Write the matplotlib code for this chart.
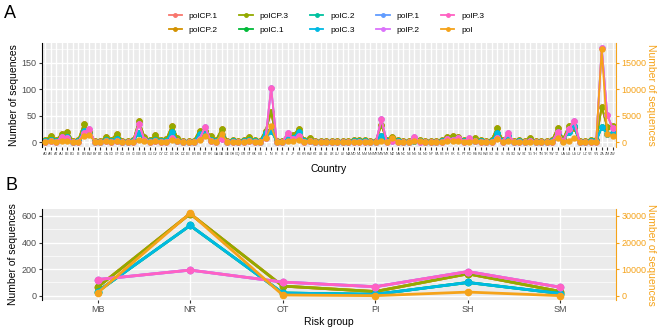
import matplotlib
matplotlib.use("Agg")
import matplotlib.pyplot as plt
from matplotlib.ticker import MultipleLocator
from matplotlib.lines import Line2D

plt.rcParams['font.family'] = ['Liberation Sans', 'DejaVu Sans']

countries = ['AD', 'AR', 'AT', 'AU', 'BE', 'BG', 'BI', 'BR', 'BW', 'BY',
             'BZ', 'CA', 'CD', 'CF', 'CG', 'CH', 'CI', 'CM', 'CN', 'CU',
             'CV', 'CY', 'CZ', 'DE', 'DK', 'DZ', 'EE', 'ER', 'ES', 'ET',
             'FR', 'GA', 'GB', 'GE', 'GH', 'GQ', 'GR', 'GT', 'HK', 'HR',
             'IL', 'IN', 'IR', 'IS', 'IT', 'JP', 'KE', 'KR', 'KW', 'KZ',
             'LB', 'LK', 'LR', 'LU', 'LV', 'MA', 'MD', 'ML', 'MM', 'MN',
             'MR', 'MW', 'MX', 'MZ', 'NA', 'NC', 'NE', 'NG', 'NL', 'NO',
             'NP', 'PA', 'PE', 'PH', 'PK', 'PL', 'PT', 'RO', 'RS', 'RU',
             'RW', 'SD', 'SE', 'SI', 'SN', 'SO', 'SV', 'SZ', 'TG', 'TH',
             'TN', 'TR', 'TW', 'TZ', 'UA', 'UG', 'US', 'UY', 'UZ', 'VE',
             'VN', 'ZA', 'ZM', 'ZW']

# panel A, sequences per country
polCP3_A = [4, 12, 4, 16, 19, 3, 4, 34, 20, 2,
            2, 9, 5, 16, 3, 3, 4, 40, 10, 4,
            13, 4, 6, 31, 8, 3, 2, 3, 22, 22,
            12, 4, 24, 3, 4, 3, 5, 9, 4, 3,
            22, 57, 3, 3, 12, 13, 25, 4, 8, 3,
            3, 2, 3, 3, 2, 3, 4, 4, 5, 3,
            3, 32, 4, 10, 5, 3, 3, 4, 5, 3,
            3, 3, 4, 10, 12, 10, 4, 5, 8, 4,
            3, 4, 27, 4, 10, 3, 5, 3, 7, 3,
            2, 3, 4, 27, 6, 30, 26, 3, 3, 4,
            4, 67, 28, 30]
polC3_A = [2, 5, 2, 8, 10, 1, 2, 22, 16, 1,
           1, 4, 2, 6, 1, 1, 2, 18, 5, 2,
           5, 2, 3, 20, 3, 1, 1, 1, 16, 16,
           5, 2, 14, 1, 2, 1, 2, 4, 2, 1,
           18, 22, 1, 1, 6, 8, 20, 2, 3, 1,
           1, 1, 1, 1, 1, 1, 2, 2, 2, 1,
           1, 12, 2, 4, 2, 1, 1, 2, 2, 1,
           1, 1, 2, 4, 5, 5, 2, 2, 3, 2,
           1, 2, 17, 2, 12, 1, 2, 1, 3, 1,
           1, 1, 2, 17, 3, 19, 30, 1, 1, 2,
           2, 28, 16, 17]
polP3_A = [1, 2, 1, 10, 8, 0, 1, 18, 24, 0,
           0, 2, 1, 3, 0, 0, 1, 35, 4, 1,
           3, 1, 1, 8, 2, 0, 0, 0, 6, 29,
           3, 1, 6, 0, 1, 0, 1, 2, 1, 0,
           8, 103, 0, 0, 17, 6, 12, 1, 2, 0,
           0, 0, 0, 0, 0, 0, 1, 1, 1, 0,
           0, 43, 1, 3, 1, 0, 0, 9, 1, 0,
           0, 0, 1, 6, 4, 8, 1, 8, 2, 1,
           0, 1, 8, 1, 17, 0, 1, 0, 2, 0,
           0, 0, 1, 19, 2, 24, 40, 0, 0, 1,
           1, 178, 51, 26]
pol_A = [100, 200, 100, 300, 300, 100, 100, 1200, 1400, 100,
         100, 200, 100, 200, 100, 100, 100, 400, 200, 100,
         200, 100, 100, 500, 200, 100, 100, 100, 500, 1200,
         300, 100, 1500, 100, 100, 100, 100, 200, 100, 100,
         700, 3000, 100, 100, 300, 300, 500, 100, 200, 100,
         100, 100, 100, 100, 100, 100, 100, 100, 100, 100,
         100, 300, 100, 800, 100, 100, 100, 200, 200, 100,
         100, 100, 100, 200, 200, 200, 100, 100, 200, 100,
         100, 100, 600, 100, 300, 100, 100, 100, 100, 100,
         100, 100, 100, 750, 100, 300, 800, 100, 100, 100,
         100, 17500, 1550, 1100]

# panel B, sequences per risk group
risk = ['MB', 'NR', 'OT', 'PI', 'SH', 'SM']
polCP3_B = [64, 616, 73, 32, 165, 32]
polC3_B = [32, 528, 21, 11, 100, 17]
polP3_B = [122, 193, 103, 68, 182, 64]
pol_B = [1050, 31000, 300, 50, 1400, 50]

labels = ['polCP.1', 'polCP.2', 'polCP.3', 'polC.1', 'polC.2', 'polC.3',
          'polP.1', 'polP.2', 'polP.3']
colors = ['#F8766D', '#D39200', '#93AA00', '#00BA38', '#00C19F', '#00B9E3',
          '#619CFF', '#DB72FB', '#FF61C3']
orange = '#F5A31A'

# the .1/.2 fragments sit under the .3 lines
series_A = [polCP3_A, polCP3_A, polCP3_A, polC3_A, polC3_A, polC3_A,
            polP3_A, polP3_A, polP3_A]
series_B = [polCP3_B, polCP3_B, polCP3_B, polC3_B, polC3_B, polC3_B,
            polP3_B, polP3_B, polP3_B]


def style(ax, ax2, minor):
    ax.set_facecolor('#EBEBEB')
    ax.set_axisbelow(True)
    ax.yaxis.set_minor_locator(MultipleLocator(minor))
    ax.grid(which='major', color='white', lw=1.0)
    ax.grid(which='minor', axis='y', color='white', lw=0.5)
    for s in ['top', 'right', 'bottom']:
        ax.spines[s].set_visible(False)
    ax.spines['left'].set_color('black')
    ax.spines['left'].set_linewidth(0.8)
    ax.tick_params(axis='both', which='major', length=2.5, color='#333333',
                   labelcolor='#4D4D4D', labelsize=6.5, pad=1.5)
    ax.tick_params(axis='y', which='minor', length=0)
    for s in ['top', 'left', 'bottom']:
        ax2.spines[s].set_visible(False)
    ax2.spines['right'].set_color(orange)
    ax2.spines['right'].set_linewidth(0.8)
    ax2.tick_params(axis='y', length=2.5, color=orange, labelcolor=orange,
                    labelsize=6.5, pad=1.5)
    ax2.set_ylabel('Number of sequences', color=orange, fontsize=7.5,
                   rotation=270, labelpad=7)


fig = plt.figure(figsize=(6.66, 3.34), dpi=100)

# ---- A ----
axA = fig.add_axes([0.063, 0.560, 0.862, 0.311])
xa = list(range(len(countries)))
for vals, c, lab in zip(series_A, colors, labels):
    axA.plot(xa, vals, color=c, lw=1.3, marker='o', ms=3.6, label=lab)
axA.set_xlim(-0.6, len(countries) - 0.4)
axA.set_ylim(-9, 187)
axA.set_yticks([0, 50, 100, 150])
axA.set_xticks(xa)
axA.set_xticklabels(countries, fontsize=2.6)
axA.set_ylabel('Number of sequences', fontsize=7.5, labelpad=2)
axA.set_xlabel('Country', fontsize=7.5, labelpad=6)
axA2 = axA.twinx()
axA2.plot(xa, pol_A, color=orange, lw=1.3, marker='o', ms=3.6, label='pol')
axA2.set_ylim(-900, 18700)
axA2.set_yticks([0, 5000, 10000, 15000])
style(axA, axA2, 25)
axA.tick_params(axis='x', labelsize=2.6, length=2)

# ---- B ----
axB = fig.add_axes([0.063, 0.102, 0.862, 0.272])
xb = list(range(len(risk)))
for vals, c, lab in zip(series_B, colors, labels):
    axB.plot(xb, vals, color=c, lw=2.0, marker='o', ms=4.5)
axB.set_xlim(-0.6, len(risk) - 0.4)
axB.set_ylim(-31, 651)
axB.set_yticks([0, 200, 400, 600])
axB.set_xticks(xb)
axB.set_xticklabels(risk)
axB.set_ylabel('Number of sequences', fontsize=7.5, labelpad=2)
axB.set_xlabel('Risk group', fontsize=7.5, labelpad=2)
axB2 = axB.twinx()
axB2.plot(xb, pol_B, color=orange, lw=2.0, marker='o', ms=4.5)
axB2.set_ylim(-1550, 32550)
axB2.set_yticks([0, 10000, 20000, 30000])
style(axB, axB2, 100)

handles = [Line2D([], [], color=c, lw=1.3, marker='o', ms=2.5) for c in colors]
handles.append(Line2D([], [], color=orange, lw=1.3, marker='o', ms=2.5))
fig.legend(handles, labels + ['pol'], loc='upper center',
           bbox_to_anchor=(0.49, 0.985), ncol=5, fontsize=6, frameon=False,
           handlelength=1.6, columnspacing=2.6, labelspacing=0.7)

fig.text(0.006, 0.945, 'A', fontsize=13)
fig.text(0.008, 0.43, 'B', fontsize=13)

fig.savefig('out.png', dpi=100)
